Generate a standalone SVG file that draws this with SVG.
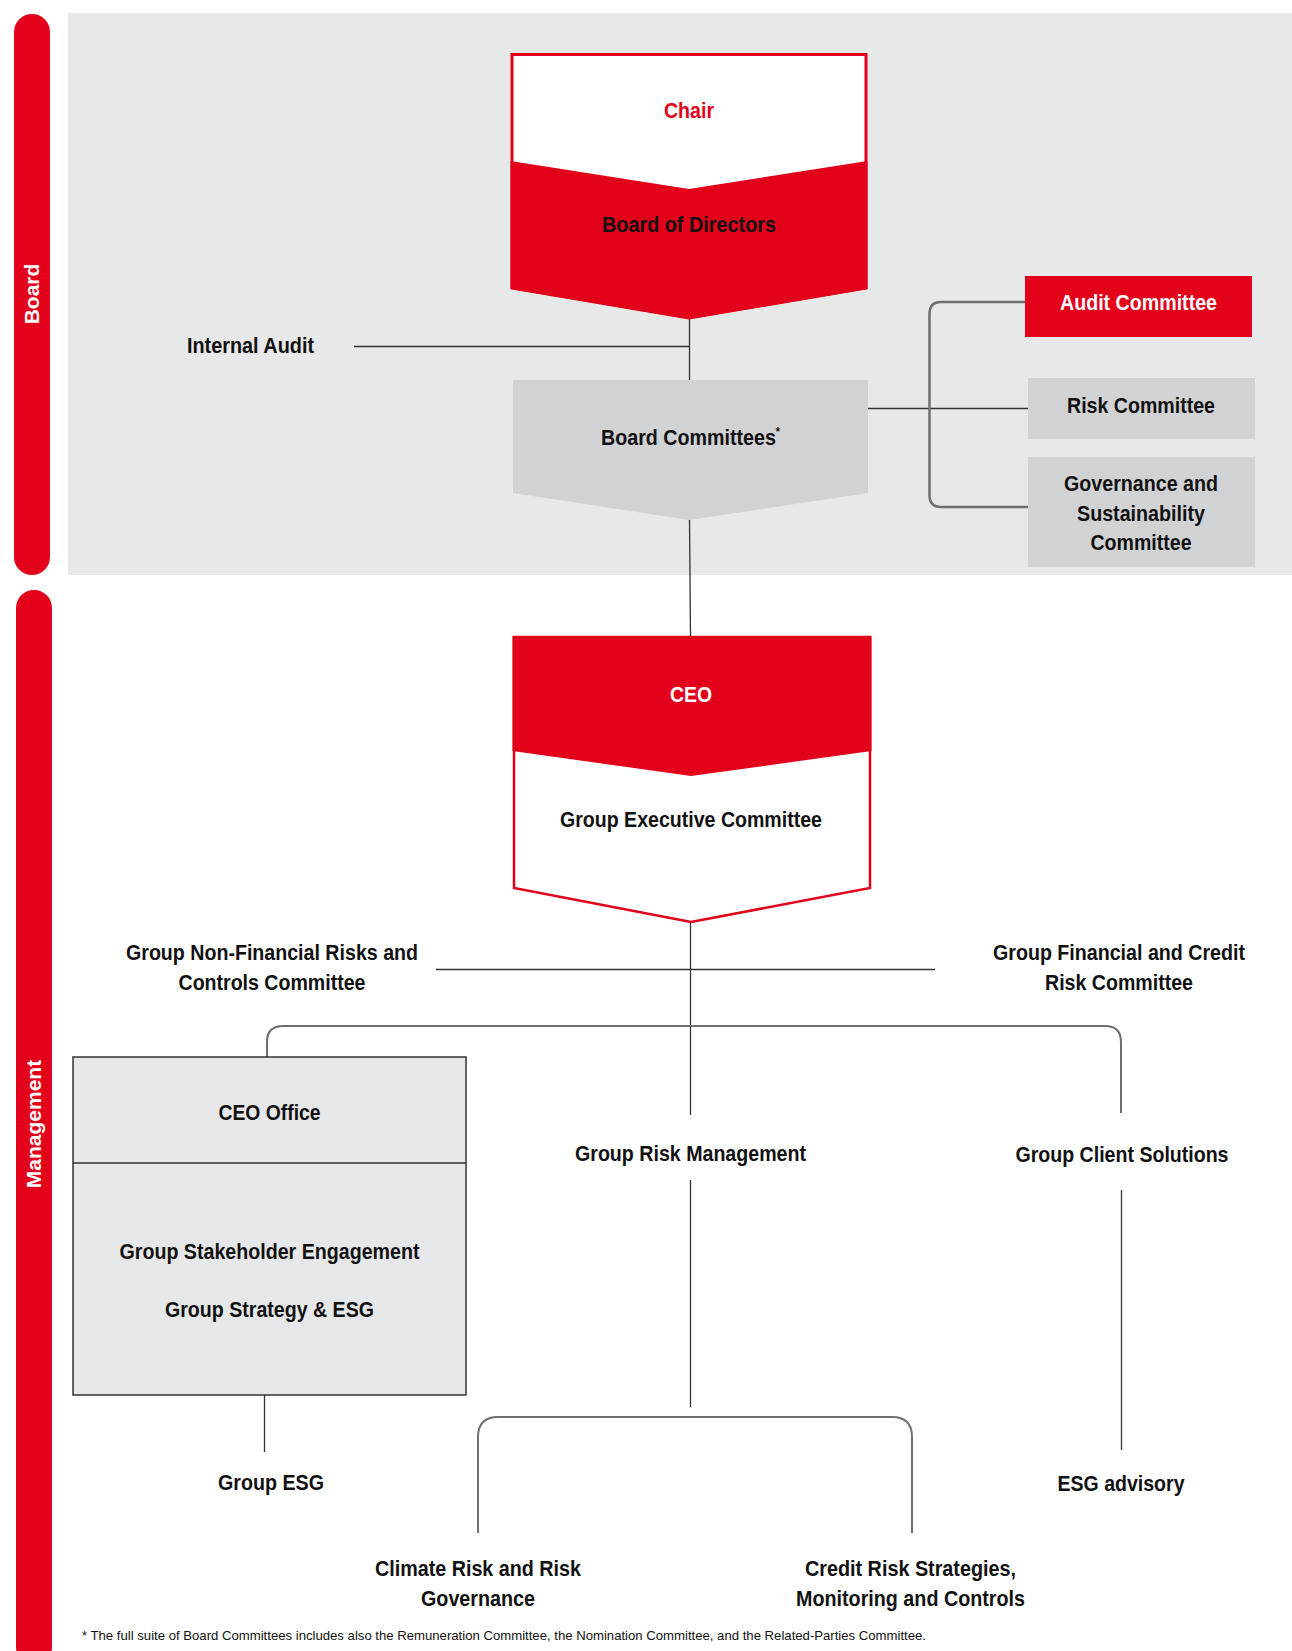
<svg xmlns="http://www.w3.org/2000/svg" width="1292" height="1651" viewBox="0 0 1292 1651">
<style>
.t{font-family:"Liberation Sans",Arial,sans-serif;font-weight:bold;font-size:22px;fill:#111;text-anchor:middle}
.w{fill:#fff}
.r{fill:#e2001a}
.bar{font-family:"Liberation Sans",Arial,sans-serif;font-weight:bold;font-size:21px;fill:#fff;text-anchor:middle}
.ln{stroke:#333;stroke-width:1.3;fill:none}
.br{stroke:#6d6e70;stroke-width:2.5;fill:none}
.fn{font-family:"Liberation Sans",Arial,sans-serif;font-size:13.5px;fill:#111}
</style>
<rect x="68" y="13" width="1224" height="562" fill="#e7e8e8"/>
<g id="board-bar"><rect x="14" y="14" width="36" height="561" rx="18" fill="#e2001a"/><text class="bar" transform="translate(39,294) rotate(-90)">Board</text></g>
<g id="mgmt-bar"><rect x="16" y="590" width="36" height="1075" rx="18" fill="#e2001a"/><text class="bar" transform="translate(41,1124) rotate(-90)">Management</text></g>

<g id="connectors">
<line class="ln" x1="689.5" y1="318" x2="689.5" y2="380"/>
<line class="ln" x1="354" y1="346.5" x2="689.5" y2="346.5"/>
<line class="ln" x1="689.5" y1="519" x2="690.5" y2="637"/>
<line class="ln" x1="868" y1="408.5" x2="1028" y2="408.5"/>
<path class="br" d="M1025,302 H941 Q929.5,302 929.5,314 V495 Q929.5,507 941,507 H1028"/>
<line class="ln" x1="690.5" y1="922" x2="690.5" y2="1115"/>
<line class="ln" x1="436" y1="969.5" x2="935" y2="969.5"/>
<path class="br" style="stroke-width:2" d="M267,1057 V1042 Q267,1026 283,1026 H1105 Q1121,1026 1121,1042 V1113"/>
<line class="ln" x1="264.5" y1="1395" x2="264.5" y2="1452"/>
<line class="ln" x1="690.5" y1="1180" x2="690.5" y2="1407"/>
<path class="br" style="stroke-width:2" d="M478,1533 V1437 Q478,1417 498,1417 H892 Q912,1417 912,1437 V1533"/>
<line class="ln" x1="1121.5" y1="1190" x2="1121.5" y2="1450"/>
</g>

<g id="chair-board">
<polygon points="512,54.5 866,54.5 866,288 689,318 512,288" fill="#fff" stroke="#e2001a" stroke-width="3"/>
<polygon points="510.5,161 689,189 867.5,161 867.5,289 689,319 510.5,289" fill="#e2001a"/>
<text class="t r" x="689" y="118" textLength="50" lengthAdjust="spacingAndGlyphs">Chair</text>
<text class="t" x="689" y="232" textLength="174" lengthAdjust="spacingAndGlyphs">Board of Directors</text>
</g>

<g id="internal-audit"><text class="t" x="250.5" y="353" textLength="127" lengthAdjust="spacingAndGlyphs">Internal Audit</text></g>

<g id="board-committees">
<polygon points="513,380 868,380 868,493 689,520 513,493" fill="#d1d2d4"/>
<text class="t" x="690.5" y="445" textLength="179" lengthAdjust="spacingAndGlyphs">Board Committees<tspan font-size="12" dy="-9">*</tspan></text>
</g>

<g id="audit-committee"><rect x="1025" y="276" width="227" height="61" fill="#e2001a"/>
<text class="t w" x="1138.5" y="310" textLength="157" lengthAdjust="spacingAndGlyphs">Audit Committee</text></g>

<g id="risk-committee"><rect x="1028" y="378" width="227" height="61" fill="#d1d2d4"/>
<text class="t" x="1141" y="413" textLength="148" lengthAdjust="spacingAndGlyphs">Risk Committee</text></g>

<g id="gov-committee"><rect x="1028" y="457" width="227" height="110" fill="#d1d2d4"/>
<text class="t" x="1141" y="491" textLength="154" lengthAdjust="spacingAndGlyphs">Governance and</text>
<text class="t" x="1141" y="521" textLength="128" lengthAdjust="spacingAndGlyphs">Sustainability</text>
<text class="t" x="1141" y="550" textLength="101" lengthAdjust="spacingAndGlyphs">Committee</text></g>

<g id="ceo-gec">
<polygon points="514,637 870,637 870,888 691,922 514,888" fill="#fff" stroke="#e2001a" stroke-width="2.5"/>
<polygon points="512.5,636 871.5,636 871.5,751 691,776 512.5,751" fill="#e2001a"/>
<text class="t w" x="691" y="702" textLength="42" lengthAdjust="spacingAndGlyphs">CEO</text>
<text class="t" x="691" y="827" textLength="262" lengthAdjust="spacingAndGlyphs">Group Executive Committee</text>
</g>

<g id="non-fin"><text class="t" x="272" y="960" textLength="292" lengthAdjust="spacingAndGlyphs">Group Non-Financial Risks and</text>
<text class="t" x="272" y="990" textLength="187" lengthAdjust="spacingAndGlyphs">Controls Committee</text></g>

<g id="fin-credit"><text class="t" x="1119" y="960" textLength="252" lengthAdjust="spacingAndGlyphs">Group Financial and Credit</text>
<text class="t" x="1119" y="990" textLength="148" lengthAdjust="spacingAndGlyphs">Risk Committee</text></g>

<g id="ceo-office">
<rect x="73" y="1057" width="393" height="338" fill="#e6e7e8" stroke="#333" stroke-width="1.5"/>
<line x1="73" y1="1163" x2="466" y2="1163" stroke="#333" stroke-width="1.5"/>
<text class="t" x="269.5" y="1120" textLength="102" lengthAdjust="spacingAndGlyphs">CEO Office</text>
<text class="t" x="269.5" y="1259" textLength="300" lengthAdjust="spacingAndGlyphs">Group Stakeholder Engagement</text>
<text class="t" x="269.5" y="1317" textLength="209" lengthAdjust="spacingAndGlyphs">Group Strategy &amp; ESG</text>
</g>

<g id="grm"><text class="t" x="690.5" y="1161" textLength="231" lengthAdjust="spacingAndGlyphs">Group Risk Management</text></g>
<g id="gcs"><text class="t" x="1122" y="1162" textLength="213" lengthAdjust="spacingAndGlyphs">Group Client Solutions</text></g>
<g id="group-esg"><text class="t" x="271" y="1490" textLength="106" lengthAdjust="spacingAndGlyphs">Group ESG</text></g>
<g id="esg-advisory"><text class="t" x="1121" y="1491" textLength="127" lengthAdjust="spacingAndGlyphs">ESG advisory</text></g>
<g id="climate"><text class="t" x="478" y="1576" textLength="206" lengthAdjust="spacingAndGlyphs">Climate Risk and Risk</text>
<text class="t" x="478" y="1606" textLength="114" lengthAdjust="spacingAndGlyphs">Governance</text></g>
<g id="credit"><text class="t" x="910.5" y="1576" textLength="211" lengthAdjust="spacingAndGlyphs">Credit Risk Strategies,</text>
<text class="t" x="910.5" y="1606" textLength="229" lengthAdjust="spacingAndGlyphs">Monitoring and Controls</text></g>

<text class="fn" x="82" y="1640" textLength="844" lengthAdjust="spacingAndGlyphs">* The full suite of Board Committees includes also the Remuneration Committee, the Nomination Committee, and the Related-Parties Committee.</text>
</svg>
